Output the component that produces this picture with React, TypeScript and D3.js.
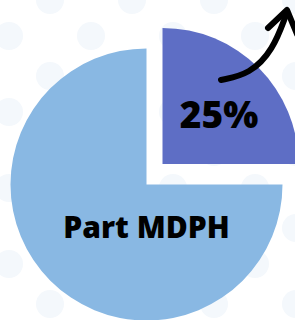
import React, { useMemo } from "react";
import * as d3 from "d3";

const W = 295;
const H = 320;

const categories = ["MDPH", "Autres"];
const values = [25, 75];
const sliceLabels = ["25%", "Part MDPH"];
const colors = ["#5e6ec5", "#89b8e3"];

export default function App() {
  const cx = 146.5;
  const cy = 184.5;
  const R = 136;
  const explodeX = 16;
  const explodeY = -20.5;

  const arcs = useMemo(
    () =>
      d3
        .pie<number>()
        .sort(null)
        .value((d) => d)(values),
    []
  );
  const arcGen = d3.arc<d3.PieArcDatum<number>>().innerRadius(0).outerRadius(R);

  const arrowLine = d3.line().curve(d3.curveBasis);
  const arrowBody: [number, number][] = [
    [221, 80],
    [250, 74],
    [273, 50],
    [286, 15],
  ];
  const arrowHead: [number, number][] = [
    [268, 28],
    [287, 10],
    [297, 34],
  ];

  return (
    <svg
      width={W}
      height={H}
      style={{ position: "absolute", left: 0, top: 0, background: "#ffffff" }}
    >
      <defs>
        <pattern id="dots" width={82} height={76} patternUnits="userSpaceOnUse" x={9} y={-2}>
          <circle cx={41} cy={2} r={14} fill="#f4f8fc" />
          <circle cx={0} cy={38} r={14} fill="#f4f8fc" />
          <circle cx={82} cy={38} r={14} fill="#f4f8fc" />
          <circle cx={41} cy={78} r={14} fill="#f4f8fc" />
        </pattern>
      </defs>
      <rect width={W} height={H} fill="url(#dots)" />
      {arcs.map((a, i) => {
        const dx = i === 0 ? explodeX : 0;
        const dy = i === 0 ? explodeY : 0;
        return (
          <g key={categories[i]} transform={`translate(${cx + dx},${cy + dy})`}>
            <path d={arcGen(a) || ""} fill={colors[i]} />
          </g>
        );
      })}
      {arcs.map((a, i) => {
        const mid = (a.startAngle + a.endAngle) / 2;
        let lx: number, ly: number, fs: number;
        if (i === 0) {
          const lr = 80;
          lx = cx + explodeX + Math.sin(mid) * lr;
          ly = cy + explodeY - Math.cos(mid) * lr + 20.5;
          fs = 37;
        } else {
          lx = cx;
          ly = cy + 53.5;
          fs = 30;
        }
        return (
          <text
            key={"l" + i}
            x={lx}
            y={ly}
            textAnchor="middle"
            fontFamily="'Open Sans', sans-serif"
            fontWeight={800}
            fontSize={fs}
            fill="#000"
          >
            {sliceLabels[i]}
          </text>
        );
      })}
      <path
        d={arrowLine(arrowBody) || ""}
        fill="none"
        stroke="#000"
        strokeWidth={6}
        strokeLinecap="round"
      />
      <path
        d={d3.line()(arrowHead) || ""}
        fill="none"
        stroke="#000"
        strokeWidth={6}
        strokeLinecap="round"
        strokeLinejoin="round"
      />
    </svg>
  );
}
